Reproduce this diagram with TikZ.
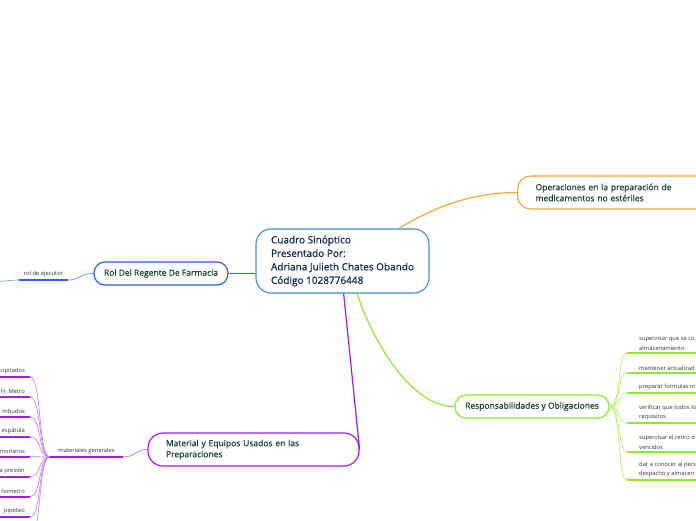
\documentclass[tikz,border=0pt]{standalone}
\usepackage{fontspec}
\setmainfont{Open Sans}
\newfontfamily\hubfont[FakeBold=0.6]{Open Sans}
\newfontfamily\topicfont[FakeBold=0.3]{Open Sans}
\usepackage{tikz}
\usetikzlibrary{calc}
\definecolor{hubline}{HTML}{3D8FD1}
\definecolor{hubtext}{HTML}{14254A}
\definecolor{roltone}{HTML}{2E5FF2}
\definecolor{opstone}{HTML}{F7A531}
\definecolor{mattone}{HTML}{A01CEB}
\definecolor{restone}{HTML}{8EEB2A}
\definecolor{topictext}{HTML}{163F33}
\definecolor{leaftext}{HTML}{333333}
\tikzset{
  % pixel grid of the map: x to the right, y downwards
  every picture/.append style={x=1pt, y=-1pt},
}

\begin{document}
\begin{tikzpicture}[
    hubbox/.style={draw=hubline, rounded corners=15pt, line width=1.1pt, fill=white,
                   minimum width=173pt, minimum height=64pt, inner sep=0pt, align=left,
                   text=hubtext, font=\hubfont\fontsize{10}{13.5}\selectfont},
    topic/.style={draw, rounded corners=11pt, line width=1.2pt, fill=white, inner sep=0pt,
                  minimum height=23pt, text=topictext, font=\topicfont\fontsize{8.5}{11}\selectfont},
    leaf/.style={font=\fontsize{5.8}{9.3}\selectfont, text=leaftext, inner xsep=5pt,
                 inner ysep=2.5pt, align=left},
    under/.style={line width=1.8pt},
    twig/.style={line width=0.7pt},
]
\useasboundingbox (0,0) rectangle (696,520);
\clip (0,0) rectangle (696,520);

% centre
\node[hubbox] (hub) at (342.5,261)
  {Cuadro Sinóptico\\Presentado Por:\\Adriana Julieth Chates Obando\\Código 1028776448};

% main topics
\node[topic, draw=opstone, anchor=west, minimum height=33pt, rounded corners=13pt,
      text width=170pt, inner xsep=18pt, align=left] (ops) at (517,192.5)
  {Operaciones en la preparación de\\medicamentos no estériles};
\node[topic, draw=roltone, minimum width=134pt] (rol) at (161,273.5) {Rol Del Regente De Farmacia};
\node[topic, draw=restone, minimum width=154pt] (resp) at (532,406.5) {Responsabilidades y Obligaciones};
\node[topic, draw=mattone, minimum height=33pt, rounded corners=15pt,
      text width=175pt, inner xsep=18pt, align=left] (mat) at (253.5,449.5)
  {Material y Equipos Usados en las\\Preparaciones};

\draw[opstone, line width=1.2pt] (hub.30) .. controls +(30,-18) and +(-50,0) .. (ops.west);
\draw[roltone, line width=1.2pt] (rol.east) -- (rol.east -| hub.west);
\draw[restone, line width=1.2pt] (hub.-66) .. controls +(15,45) and +(-45,0) .. (resp.west);
\draw[mattone, line width=1.2pt] (hub.-88) -- (mat.east);

% rol del regente
\node[leaf, anchor=south, minimum width=49pt] (ejec) at (43.5,280) {rol de ejecutor};
\coordinate (ejecnext) at (-20,283);
\draw[roltone, under] (ejec.south west) -- (ejec.south east);
\draw[roltone!70, twig] (rol.west) .. controls +(-14,0) and +(12,0) .. (ejec.south east);
\draw[roltone!60, twig] (ejec.south west) .. controls +(-8,0) and +(8,0) .. (ejecnext);

% material y equipos
\node[leaf, anchor=south, minimum width=73pt] (matgen) at (86.5,457) {materiales generales};
\draw[mattone, under] (matgen.south west) -- (matgen.south east);
\draw[mattone!70, twig] (mat.west) .. controls +(-12,0) and +(12,0) .. (matgen.south east);
\foreach \txt [count=\k] in {cipitados, H- Metro, mbudos, espátula, morteros, a presión, hometro, pipeteo} {
  \node[leaf, anchor=south east] (mleaf\k) at (30,{356.7+20*\k}) {\txt};
  \draw[mattone, under] (mleaf\k.south east) -- ++(-40,0);
  \draw[mattone!55, twig] (matgen.south west) .. controls +(-12,0) and +(12,0) .. (mleaf\k.south east);
}
\coordinate (mleafnext) at (30,536.7);
\draw[mattone!55, twig] (matgen.south west) .. controls +(-12,0) and +(12,0) .. (mleafnext);

% responsabilidades
\foreach \txt/\y [count=\k] in {{supervisar que se cu\\almacenamiento}/353,
                               {mantener actualizad}/373,
                               {preparar formulas m}/393,
                               {verificar que todos lo\\requisitos}/423,
                               {supervisar el retiro d\\vencidos}/452,
                               {dar a conocer al pers\\despacho y almacen}/480} {
  \node[leaf, anchor=south west, inner xsep=12pt] (rleaf\k) at (627,\y) {\txt};
  \draw[restone, under] (rleaf\k.south west) -- ++(80,0);
  \draw[restone!70, twig] (resp.east) .. controls +(12,0) and +(-10,0) .. (rleaf\k.south west);
}

\end{tikzpicture}
\end{document}
